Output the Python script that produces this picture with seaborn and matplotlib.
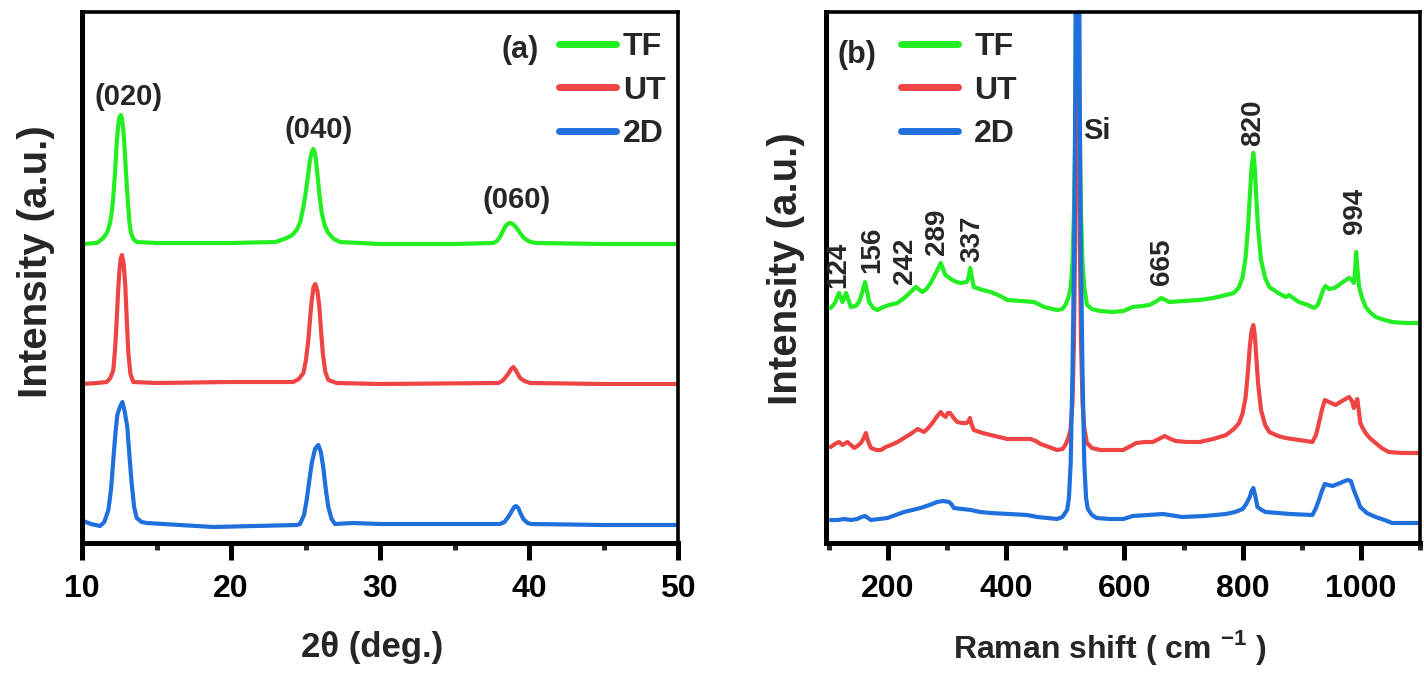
import numpy as np
import pandas as pd
import matplotlib
matplotlib.use("Agg")
import matplotlib.pyplot as plt
from matplotlib.ticker import MultipleLocator, FixedLocator
import seaborn as sns

# ---------------- XRD data (intensity above each trace's own baseline) ----------------
xrd_tf_x = [10.0, 11.0, 11.43, 11.70, 11.88, 12.00, 12.10, 12.22, 12.33, 12.42, 12.50, 12.60, 12.68,
            12.76, 12.84, 12.95, 13.07, 13.18, 13.29, 13.45, 13.67, 15.0, 20.0, 23.0, 23.74, 24.10,
            24.41, 24.65, 24.86, 25.03, 25.19, 25.30, 25.42, 25.52, 25.62, 25.71, 25.79, 25.94,
            26.09, 26.30, 26.53, 26.90, 27.32, 30.0, 35.0, 37.60, 37.85, 38.05, 38.22, 38.39,
            38.55, 38.72, 38.90, 39.05, 39.17, 39.40, 39.60, 39.84, 40.10, 40.52, 45.0, 50.0]
xrd_tf_y = [0, 1, 6, 12, 21, 32, 47, 72, 101, 117, 126, 129, 126,
            116, 101, 72, 44, 22, 11, 5, 2, 1, 1, 2, 6, 9,
            14, 22, 37, 53, 71, 84, 92, 95, 92, 83, 71, 49,
            31, 18, 11, 5, 2, 0, 0, 1, 3, 7, 12, 17,
            20, 21, 20, 18, 16, 11, 7, 4, 2, 1, 0, 0]

xrd_ut_x = [10.0, 11.0, 11.66, 11.90, 12.10, 12.22, 12.33, 12.42, 12.50, 12.59, 12.68, 12.80, 12.91,
            13.01, 13.11, 13.25, 13.44, 15.0, 20.0, 24.18, 24.55, 24.86, 25.03, 25.19, 25.31,
            25.42, 25.54, 25.66, 25.80, 25.93, 26.05, 26.16, 26.33, 26.53, 27.09, 30.0, 37.94,
            38.20, 38.39, 38.60, 38.80, 38.95, 39.10, 39.25, 39.40, 39.70, 40.07, 45.0, 50.0]
xrd_ut_y = [0, 1, 2, 6, 14, 35, 64, 92, 111, 125, 129, 120, 97,
            62, 31, 10, 2, 1, 2, 2, 5, 11, 24, 44, 66,
            84, 97, 100, 93, 77, 52, 31, 12, 4, 1, 0, 1,
            3, 6, 10, 15, 17, 14, 10, 6, 3, 1, 0, 0]

xrd_2d_x = [10.09, 10.6, 11.21, 11.50, 11.77, 11.95, 12.10, 12.25, 12.37, 12.54, 12.71, 12.86, 13.04,
            13.18, 13.33, 13.50, 13.67, 14.00, 14.34, 18.81, 24.41, 24.63, 24.90, 25.08, 25.25,
            25.42, 25.64, 25.86, 26.03, 26.19, 26.36, 26.53, 26.75, 26.98, 28.21, 30.0, 38.05,
            38.35, 38.61, 38.85, 39.00, 39.13, 39.28, 39.45, 39.62, 39.90, 40.18, 45.0, 50.0]
xrd_2d_y = [4, 1, -1, 3, 15, 36, 65, 93, 110, 118, 123, 114, 98,
            70, 42, 18, 7, 3, 2, -2, 0, 1, 10, 25, 44,
            62, 76, 80, 73, 58, 36, 18, 6, 1, 2, 1, 1,
            3, 8, 14, 18, 19, 17, 11, 6, 2, 1, 0, 0]

xrd_offsets = [299, 159, 18]
xrd_peak_labels = ["(020)", "(040)", "(060)"]
xrd_peak_label_x = [13.1, 25.85, 39.2]
xrd_peak_label_y = [446, 413, 343]

# ---------------- Raman data (intensity above each trace's own baseline) ----------------
raman_tf_x = [103, 110, 117, 123, 129, 137, 145, 151, 156, 161, 165, 168, 175, 182, 192, 202, 216,
              225, 233, 247, 258, 265, 272, 281, 289, 293, 297, 309, 316, 323, 333, 336, 339, 342,
              345, 360, 374, 390, 402, 425, 447, 464, 478, 486, 495, 500, 505, 509, 512, 514.5,
              516.5, 518, 519, 520.5, 522, 523, 524.5, 526.5, 529, 532, 536.5, 545, 559, 580, 598,
              614, 630, 642, 652, 662, 676, 700, 727, 750, 772, 785, 794, 800, 805, 809, 812, 815,
              818, 820.5, 823, 826, 831, 838, 845, 860, 873, 878, 883, 895, 910, 921, 927, 932,
              936, 940, 946, 955, 963, 972, 980, 985, 988, 990, 992, 994, 997, 1002, 1008, 1015,
              1025, 1040, 1053, 1075, 1098]
raman_tf_y = [15, 20, 30, 21, 30, 16, 17, 21, 30, 41, 30, 21, 15, 13, 16, 18, 20,
              24, 28, 36, 31, 34, 40, 50, 60, 54, 48, 43, 41, 40, 41, 45, 55, 45,
              36, 33, 31, 27, 23, 22, 21, 16, 14, 13, 14, 18, 25, 36, 60, 110,
              180, 300, 500, 1300, 500, 300, 180, 110, 60, 36, 18, 14, 12, 11, 12,
              16, 17, 18, 21, 25, 21, 22, 23, 25, 28, 30, 36, 46, 66, 95, 126, 155,
              170, 155, 126, 95, 63, 45, 36, 30, 26, 28, 26, 21, 18, 15, 18, 26,
              33, 37, 34, 35, 38, 42, 45, 43, 40, 50, 71, 55, 36, 25, 16, 11,
              6, 3, 1, 0, 0]

raman_ut_x = [103, 110, 117, 123, 131.5, 137, 143, 148, 154, 158, 162.5, 166, 171, 180, 188, 196,
              205, 216, 227, 238, 250, 261, 268, 275, 282, 289, 293, 297.5, 301, 305, 311, 317, 325,
              333, 336, 338.6, 341, 345, 360, 373.5, 388, 401.6, 420, 441, 450, 458, 472, 486, 495,
              500, 505, 508.6, 512, 514.5, 516.5, 518, 519, 520.5, 522, 523, 524.5, 526.5, 529,
              532, 536.5, 545, 559, 580, 598, 620, 635, 648, 658, 668, 678, 687, 705, 727, 750,
              772, 785, 794, 800, 805, 809, 812, 815, 818, 820.5, 823, 826, 831, 838, 845, 860,
              873, 895, 918, 924, 929, 934, 939, 946, 957, 968, 980, 985, 988, 991, 994, 996.5,
              999, 1003, 1008, 1015, 1025, 1035, 1047, 1070, 1098]
raman_ut_y = [6, 9, 11, 8, 11, 8, 5, 7, 10, 14, 20, 12, 5, 3, 3, 6,
              8, 11, 15, 19, 24, 21, 25, 30, 36, 41, 38, 36, 40, 40, 35, 31, 30,
              30, 32, 35, 29, 23, 20, 18, 16, 14, 14, 14, 12, 9, 6, 3, 4,
              8, 15, 23, 50, 110, 210, 350, 600, 1400, 600, 350, 210, 110, 50,
              25, 10, 5, 3, 3, 3, 10, 11, 11, 14, 17, 14, 12, 11, 11, 14,
              18, 24, 30, 40, 56, 82, 106, 122, 128, 118, 96, 70, 43, 28, 21, 17,
              15, 13, 11, 18, 30, 43, 53, 51, 48, 52, 56, 52, 45, 50, 54, 42,
              30, 25, 20, 15, 10, 5, 1, 0, 0]

raman_2d_x = [103, 115, 126, 137, 148, 155, 161, 166, 171, 185, 199, 213, 227, 241, 255, 270, 283,
              293, 303, 307, 311.5, 325, 340, 356, 373.5, 405, 435, 444, 452, 470, 486, 495, 503,
              506, 509, 512, 515, 517, 518.5, 520.5, 522.5, 524, 526, 529, 532, 535, 538, 545, 553,
              575, 598, 614, 640, 665, 698, 735, 772, 787, 800, 806, 812, 815, 818, 821, 825,
              832, 839, 880, 918, 924, 929, 934, 939, 945, 952, 965, 977, 983, 988, 994, 999, 1010,
              1025, 1040, 1053, 1075, 1098]
raman_2d_y = [3, 3, 4, 3, 4, 6, 7, 5, 3, 4, 5, 8, 11, 13, 15, 18, 21,
              22, 21, 19, 15, 14, 13, 11, 10, 9, 8, 7, 6, 5, 4, 6, 13,
              25, 60, 150, 280, 450, 800, 1500, 800, 450, 280, 150, 60, 25, 14, 8, 5,
              4, 4, 7, 8, 9, 6, 7, 9, 11, 14, 19, 26, 32, 35, 28, 16,
              13, 11, 9, 8, 15, 23, 32, 39, 38, 37, 40, 43, 42, 33, 24, 16, 10,
              6, 3, 0, 0, 0]

raman_offsets = [220, 90, 20]
raman_peak_labels = ["124", "156", "242", "289", "337", "665", "820", "994"]
raman_peak_label_x = [116, 173, 229, 283, 342, 663, 817, 990]
raman_peak_label_y = [278, 293, 282, 311, 304, 281, 420, 332]

samples = ["TF", "UT", "2D"]
colors = ["#22EE22", "#EE4444", "#1F6FDD"]

# ---------------- styling ----------------
sns.set_theme(style="white")
main_family = ["Liberation Sans", "DejaVu Sans"]
plt.rcParams["font.family"] = main_family
plt.rcParams["font.weight"] = "bold"
plt.rcParams["mathtext.fontset"] = "custom"
plt.rcParams["mathtext.rm"] = "Liberation Sans"
plt.rcParams["mathtext.bf"] = "Liberation Sans:bold"

palette = dict(zip(samples, colors))


def long_frame(xs, ys, offsets):
    parts = []
    for name, x, y, off in zip(samples, xs, ys, offsets):
        parts.append(pd.DataFrame({"x": x, "y": np.asarray(y, float) + off, "sample": name}))
    return pd.concat(parts, ignore_index=True)


xrd_df = long_frame([xrd_tf_x, xrd_ut_x, xrd_2d_x], [xrd_tf_y, xrd_ut_y, xrd_2d_y], xrd_offsets)
raman_df = long_frame([raman_tf_x, raman_ut_x, raman_2d_x],
                      [raman_tf_y, raman_ut_y, raman_2d_y], raman_offsets)

fig = plt.figure(figsize=(14.24, 6.73), dpi=100)
ax1 = fig.add_axes([82 / 1424, 130 / 673, 596 / 1424, 531 / 673])
ax2 = fig.add_axes([826 / 1424, 130 / 673, 594 / 1424, 531 / 673])

LW = 3.0
for ax, df in ((ax1, xrd_df), (ax2, raman_df)):
    sns.lineplot(data=df, x="x", y="y", hue="sample", hue_order=samples, palette=palette,
                 sort=False, estimator=None, linewidth=LW, legend=False, ax=ax)
    for ln in ax.get_lines():
        ln.set_solid_joinstyle("round")
        ln.set_solid_capstyle("round")
    ax.set_ylim(0, 531)
    ax.set_yticks([])
    for side in ("left", "bottom"):
        ax.spines[side].set_linewidth(3.6)
    for side in ("top", "right"):
        ax.spines[side].set_linewidth(2.6)
    for sp in ax.spines.values():
        sp.set_color("black")
        sp.set_visible(True)
    ax.tick_params(axis="x", which="major", direction="out", length=12, width=3.6,
                   pad=10, bottom=True, labelsize=23, colors="black")
    ax.tick_params(axis="x", which="minor", direction="out", length=5, width=3.6, bottom=True)

# ----- panel (a): XRD -----
ax1.set_xlim(10, 50)
ax1.xaxis.set_major_locator(MultipleLocator(10))
ax1.xaxis.set_minor_locator(MultipleLocator(5))
ax1.set_xlabel("2θ (deg.)", fontsize=25, fontweight="bold")
ax1.xaxis.set_label_coords(0.487, -0.165)
ax1.set_ylabel("Intensity (a.u.)", fontsize=29, fontweight="bold")
ax1.yaxis.set_label_coords(-0.045, 0.53)
for t, x, y in zip(xrd_peak_labels, xrd_peak_label_x, xrd_peak_label_y):
    ax1.text(x, y, t, ha="center", va="center", fontsize=21, fontweight="bold")
ax1.text(39.4, 493, "(a)", ha="center", va="center", fontsize=22, fontweight="bold")

# ----- panel (b): Raman -----
ax2.set_xlim(95, 1100)
ax2.xaxis.set_major_locator(FixedLocator([200, 400, 600, 800, 1000]))
ax2.xaxis.set_minor_locator(FixedLocator([100, 300, 500, 700, 900, 1100]))
ax2.set_xlabel(r"Raman shift ( cm $^{\mathbf{-1}}$ )", fontsize=23, fontweight="bold")
ax2.xaxis.set_label_coords(0.478, -0.16)
ax2.set_ylabel("Intensity (a.u.)", fontsize=29, fontweight="bold")
ax2.yaxis.set_label_coords(-0.035, 0.516)
for t, x, y in zip(raman_peak_labels, raman_peak_label_x, raman_peak_label_y):
    ax2.text(x, y, t, ha="center", va="center", rotation=90, fontsize=20, fontweight="bold")
ax2.text(554, 412, "Si", ha="center", va="center", fontsize=21, fontweight="bold")
ax2.text(148, 488, "(b)", ha="center", va="center", fontsize=22, fontweight="bold")

# ----- legends -----
for ax, anchor_x, pad in ((ax1, 0.80, 0.2), (ax2, 0.126, 0.5)):
    handles = ax.get_lines()[:3]
    ax.legend(handles, samples, loc="upper left", bbox_to_anchor=(anchor_x, 0.962),
              frameon=False, handlelength=1.8, handletextpad=pad, labelspacing=0.42,
              borderpad=0, borderaxespad=0,
              prop={"size": 23, "weight": "bold", "family": main_family})
    for ln in ax.get_legend().get_lines():
        ln.set_linewidth(5)
        ln.set_solid_capstyle("round")

fig.savefig("out.png", dpi=100)
